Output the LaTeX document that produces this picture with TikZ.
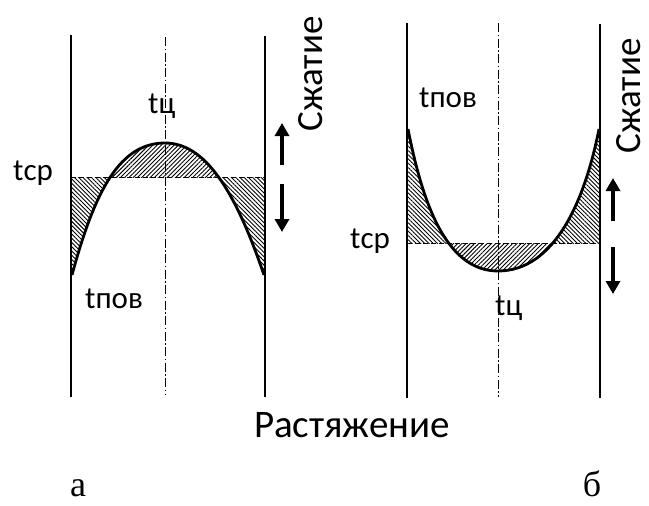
\documentclass[tikz,border=0pt]{standalone}
\usepackage{fontspec}
\setmainfont{Carlito}
\newfontfamily\serfont{Liberation Serif}
\usetikzlibrary{arrows.meta,patterns.meta}
\begin{document}
\begin{tikzpicture}[x=1pt,y=-1pt,
  wall/.style={line width=2.8pt},
  curve/.style={line width=2.8pt},
  axis/.style={line width=0.7pt,dash pattern=on 9pt off 2.5pt on 1.5pt off 2.5pt},
  level/.style={line width=1pt,dash pattern=on 5pt off 3pt},
  hatchA/.style={pattern={Lines[angle=45,distance=3pt,line width=0.9pt]}},
  hatchB/.style={pattern={Lines[angle=-45,distance=3pt,line width=0.9pt]}},
  bigarrow/.style={line width=4.5pt,-{Triangle[width=14pt,length=13pt]}},
  lab/.style={font=\fontsize{31}{31}\selectfont,inner sep=0pt},
  rlab/.style={font=\fontsize{39}{39}\selectfont,inner sep=0pt},
  slab/.style={font=\fontsize{37}{37}\selectfont,inner sep=0pt},
  sig/.style={font=\serfont\fontsize{36}{36}\selectfont,inner sep=0pt}]
\useasboundingbox (0,0) rectangle (649,506);
% ---------- diagram a ----------
\coordinate (aLt) at (71,35);  \coordinate (aLb) at (71,397);
\coordinate (aRt) at (265,36); \coordinate (aRb) at (265,397);
\coordinate (aCt) at (165,37); \coordinate (aCb) at (165,395);
\coordinate (aDl) at (71,177); \coordinate (aDr) at (265,177);
\coordinate (aS) at (72,275); \coordinate (aP) at (165,143); \coordinate (aE) at (264,275);
\begin{scope}
  \clip (0,0) rectangle (649,177);
  \fill[hatchA] (aS) .. controls (95,190) and (120,143) .. (aP)
     .. controls (205,143) and (235,190) .. (aE) -- cycle;
\end{scope}
\begin{scope}
  \clip (0,177) rectangle (649,400);
  \fill[hatchB] (aS) .. controls (95,190) and (120,143) .. (aP)
     .. controls (205,143) and (235,190) .. (aE) -- (264,140) -- (72,140) -- cycle;
\end{scope}
\draw[level] (aDl) -- (aDr);
\draw[axis] (aCt) -- (aCb);
\draw[curve] (aS) .. controls (95,190) and (120,143) .. (aP)
     .. controls (205,143) and (235,190) .. (aE);
\draw[wall] (aLt) -- (aLb);
\draw[wall] (aRt) -- (aRb);
\coordinate (aU1) at (282,165); \coordinate (aU2) at (282,123);
\coordinate (aD1) at (282,184); \coordinate (aD2) at (282,232);
\draw[bigarrow] (aU1) -- (aU2);
\draw[bigarrow] (aD1) -- (aD2);
\node[lab,anchor=base west] (atc) at (148,113) {tц};
\node[lab,anchor=base west] (atsr) at (13,180) {tср};
\node[lab,anchor=base west] (atpov) at (85,308) {tпов};
\node[slab,rotate=90] (asz) at (311,74) {Сжатие};
% ---------- diagram b ----------
\coordinate (bLt) at (407,23);  \coordinate (bLb) at (407,398);
\coordinate (bRt) at (600,24);  \coordinate (bRb) at (600,398);
\coordinate (bCt) at (498,23);  \coordinate (bCb) at (498,397);
\coordinate (bDl) at (407,243); \coordinate (bDr) at (600,243);
\coordinate (bS) at (408,129); \coordinate (bP) at (498,271); \coordinate (bE) at (599,129);
\begin{scope}
  \clip (0,243) rectangle (649,400);
  \fill[hatchA] (bS) .. controls (422,200) and (445,271) .. (bP)
     .. controls (555,271) and (585,200) .. (bE) -- cycle;
\end{scope}
\begin{scope}
  \clip (0,0) rectangle (649,243);
  \fill[hatchB] (bS) .. controls (422,200) and (445,271) .. (bP)
     .. controls (555,271) and (585,200) .. (bE) -- (599,250) -- (408,250) -- cycle;
\end{scope}
\draw[level] (bDl) -- (bDr);
\draw[axis] (bCt) -- (bCb);
\draw[curve] (bS) .. controls (422,200) and (445,271) .. (bP)
     .. controls (555,271) and (585,200) .. (bE);
\draw[wall] (bLt) -- (bLb);
\draw[wall] (bRt) -- (bRb);
\coordinate (bU1) at (613,221); \coordinate (bU2) at (613,178);
\coordinate (bD1) at (613,247); \coordinate (bD2) at (613,294);
\draw[bigarrow] (bU1) -- (bU2);
\draw[bigarrow] (bD1) -- (bD2);
\node[lab,anchor=base west] (btpov) at (419,107) {tпов};
\node[lab,anchor=base west] (btsr) at (350,248) {tср};
\node[lab,anchor=base west] (btc) at (495,315) {tц};
\node[slab,rotate=90] (bsz) at (629,96) {Сжатие};
% ---------- captions ----------
\node[rlab,anchor=base] (rast) at (352,437) {Растяжение};
\node[sig,anchor=base] (sa) at (78,496) {а};
\node[sig,anchor=base] (sb) at (592,496) {б};
\end{tikzpicture}
\end{document}
